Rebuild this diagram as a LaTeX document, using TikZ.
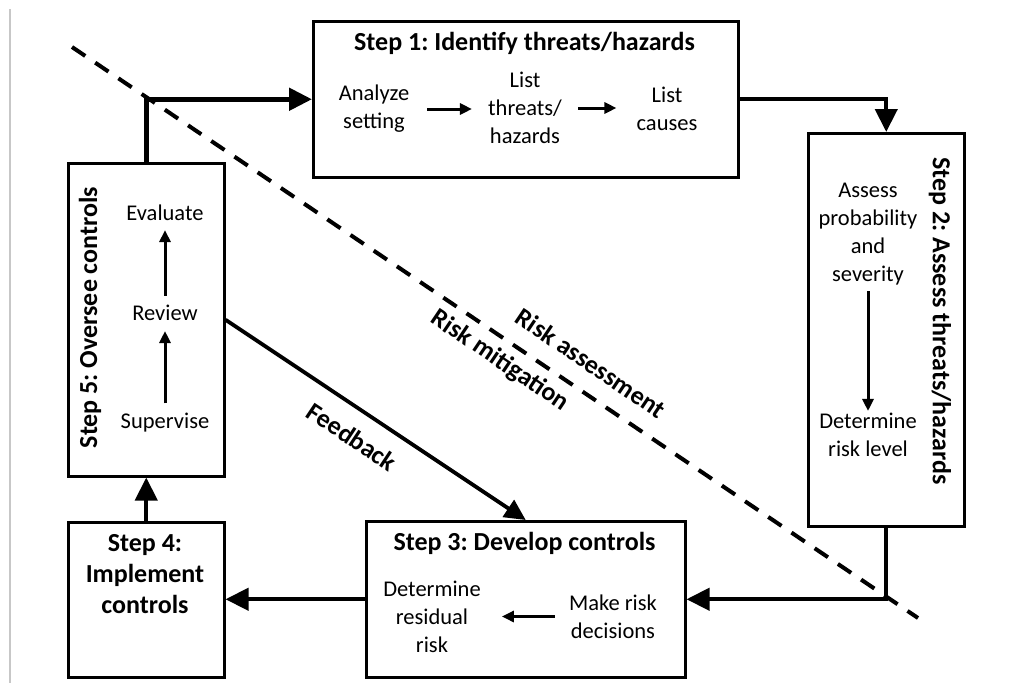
\documentclass[tikz,border=0pt]{standalone}
\usepackage{fontspec}
\setmainfont{Carlito}
\usetikzlibrary{arrows.meta}
\frenchspacing
\begin{document}
\begin{tikzpicture}[x=1pt,y=-1pt,
  stepbox/.style={draw, line width=2.5pt, inner sep=0pt, anchor=north west},
  item/.style={font=\fontsize{22.5}{28}\selectfont, align=center, inner sep=0pt},
  head/.style={font=\bfseries\fontsize{26}{31}\selectfont, align=center, inner sep=0pt},
  mainflow/.style={line width=4.3pt, -{Triangle[length=23pt,width=22pt]}},
  subflow/.style={line width=3pt, -{Triangle[length=12pt,width=11pt]}},
  divider/.style={line width=4pt, dash pattern=on 16pt off 12pt},
]
\useasboundingbox (0,0) rectangle (1016,683);
\fill[white] (0,0) rectangle (1016,683);

% thin rule on the left margin
\coordinate (g1) at (10,9);
\coordinate (g2) at (10,683);
\draw[black!22, line width=1.3pt] (g1) -- (g2);

% dashed boundary between assessment and mitigation
\coordinate (d1) at (72,47);
\coordinate (d2) at (918,618);
\draw[divider] (d1) -- (d2);

% the five step boxes
\node[stepbox, minimum width=425pt, minimum height=156pt] (s1) at (312,20) {};
\node[stepbox, minimum width=156pt, minimum height=393pt] (s2) at (807,132) {};
\node[stepbox, minimum width=319pt, minimum height=156pt] (s3) at (365,520) {};
\node[stepbox, minimum width=156pt, minimum height=155pt] (s4) at (67,521) {};
\node[stepbox, minimum width=156pt, minimum height=313pt] (s5) at (67,162) {};

% Step 1
\node[head] (t1) at (524.5,43) {Step 1: Identify threats/hazards};
\node[item] (a1) at (374,109) {Analyze\\setting};
\node[item] (a2) at (525,108) {List\\threats/\\hazards};
\node[item] (a3) at (667,109) {List\\causes};
\draw[subflow, shorten <=18pt, shorten >=16pt] (a1.east) -- (a1.east -| a2.west);
\draw[subflow, shorten <=16pt, shorten >=20pt] (a2.east) -- (a2.east -| a3.west);

% Step 2
\node[head, rotate=-90] (t2) at (940,321) {Step 2: Assess threats/hazards};
\node[item] (b1) at (868,234) {Assess\\probability\\and\\severity};
\node[item] (b2) at (868,435) {Determine\\risk level};
\draw[subflow, shorten <=6pt, shorten >=2pt] (b1.south) -- (b2.north);

% Step 3
\node[head] (t3) at (524.5,543) {Step 3: Develop controls};
\node[item] (c1) at (432,617) {Determine\\residual\\risk};
\node[item] (c2) at (613,616.5) {Make risk\\decisions};
\draw[subflow, shorten <=14pt, shorten >=21pt] (c2.west) -- (c2.west -| c1.east);

% Step 4
\node[head] (t4) at (145,574) {Step 4:\\Implement\\controls};

% Step 5
\node[head, rotate=90] (t5) at (90,317.5) {Step 5: Oversee controls};
\node[item] (e1) at (165,213) {Evaluate};
\node[item] (e2) at (165,313) {Review};
\node[item] (e3) at (165,423) {Supervise};
\draw[subflow, shorten <=10pt, shorten >=10pt] (e3.north) -- (e2.south);
\draw[subflow, shorten <=9pt, shorten >=9pt] (e2.north) -- (e1.south);

% cycle connectors
\draw[mainflow, line width=5pt] (s5.north) |- (s1.west);
\draw[mainflow] (s1.east) -| (s2.north);
\draw[mainflow] (s2.south) |- (s3.east);
\draw[mainflow] (s3.west) -- (s3.west -| s4.east);
\draw[mainflow] (s4.north) -- (s5.south);
\draw[line width=3.8pt, -{Triangle[length=21pt,width=20pt]}] (s5.east) -- (s3.north);

% labels along the diagonals
\node[head, rotate=-34] (ra) at (591,363) {Risk assessment};
\node[head, rotate=-34] (rm) at (500,361) {Risk mitigation};
\node[head, rotate=-33.7] (fb) at (352,437) {Feedback};
\end{tikzpicture}
\end{document}
